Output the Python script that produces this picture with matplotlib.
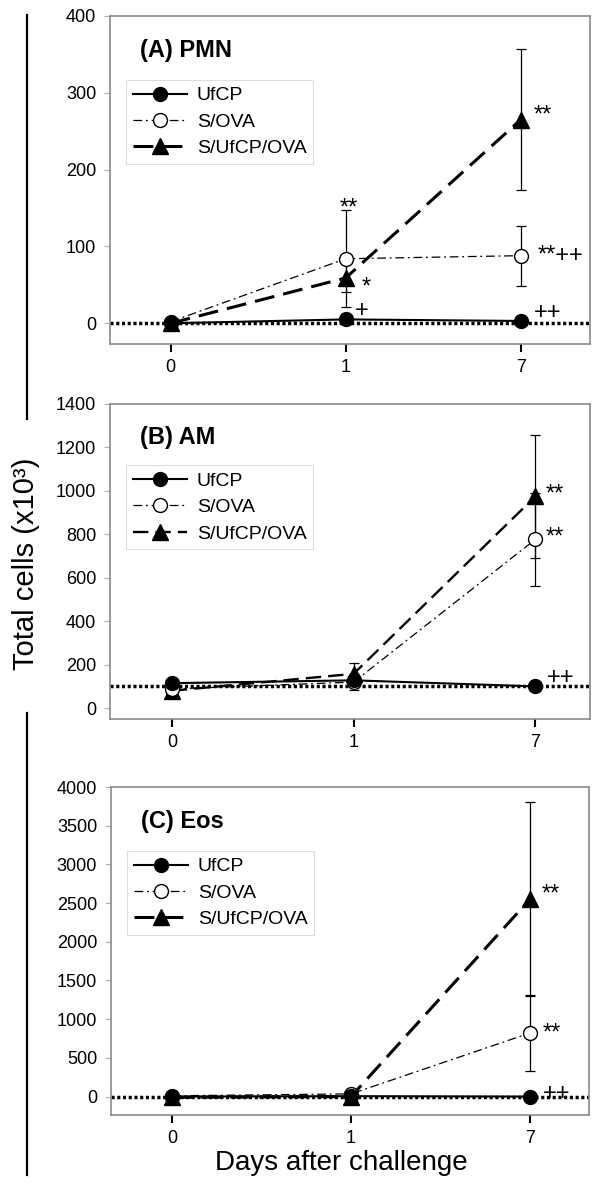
import matplotlib
matplotlib.use("Agg")
import matplotlib.pyplot as plt
from matplotlib.lines import Line2D

plt.rcParams['font.family'] = ['Liberation Sans', 'DejaVu Sans']

days = ['0', '1', '7']
xpos = [0, 1, 2]
labels = ['UfCP', 'S/OVA', 'S/UfCP/OVA']

# (A) PMN
pmn_ufcp = [0, 5, 3]
pmn_ufcp_err = [1, 3, 2]
pmn_sova = [2, 84, 88]
pmn_sova_err = [2, 63, 39]
pmn_sufcp = [0, 59, 265]
pmn_sufcp_err = [2, 18, 92]

# (B) AM
am_ufcp = [115, 128, 100]
am_ufcp_err = [10, 15, 10]
am_sova = [88, 120, 777]
am_sova_err = [10, 38, 213]
am_sufcp = [80, 158, 975]
am_sufcp_err = [10, 50, 283]

# (C) Eos
eos_ufcp = [0, 5, 0]
eos_ufcp_err = [5, 5, 5]
eos_sova = [10, 35, 821]
eos_sova_err = [10, 20, 490]
eos_sufcp = [-10, 0, 2550]
eos_sufcp_err = [10, 10, 1250]

titles = ['(A) PMN', '(B) AM', '(C) Eos']
baselines = [0, 100, 0]
yticks_list = [list(range(0, 401, 100)), list(range(0, 1401, 200)), list(range(0, 4001, 500))]
ylims = [(-27, 400), (-50, 1400), (-238, 4000)]
xlims = [(-0.347, 2.396), (-0.34, 2.30), (-0.342, 2.33)]

annots = [
    [('**', 1.017, 159), ('*', 1.116, 55), ('+', 1.091, 18.5), ('**', 2.129, 280),
     ('**++', 2.229, 93), ('++', 2.152, 15.6)],
    [('**', 2.104, 1017), ('**', 2.104, 818), ('++', 2.139, 148)],
    [('**', 2.116, 2703), ('**', 2.121, 903), ('++', 2.151, 65)],
]

data = [
    (pmn_ufcp, pmn_ufcp_err, pmn_sova, pmn_sova_err, pmn_sufcp, pmn_sufcp_err),
    (am_ufcp, am_ufcp_err, am_sova, am_sova_err, am_sufcp, am_sufcp_err),
    (eos_ufcp, eos_ufcp_err, eos_sova, eos_sova_err, eos_sufcp, eos_sufcp_err),
]

W, H = 600, 1189
fig = plt.figure(figsize=(W / 100, H / 100), dpi=100)

boxes = [(110, 16, 590, 344), (110, 404, 590, 719), (111, 787, 589, 1115)]
dash_lw = [2.2, 1.7, 2.2]

for i, (l, t, r, b) in enumerate(boxes):
    ax = fig.add_axes([l / W, 1 - b / H, (r - l) / W, (b - t) / H])
    u, ue, s, se, tr, te = data[i]
    ax.axhline(baselines[i], color='black', lw=2.5, dashes=(0.9, 0.75), zorder=1.5)
    ek = dict(fmt='none', ecolor='black', elinewidth=0.9, capsize=3.6, capthick=0.9)
    ax.errorbar(xpos, tr, yerr=te, zorder=2.5, **ek)
    ax.errorbar(xpos, s, yerr=se, zorder=2.5, **ek)
    ax.errorbar(xpos, u, yerr=ue, zorder=2.5, **ek)
    h3, = ax.plot(xpos, tr, color='black', lw=dash_lw[i], dashes=(6.5, 3),
                  marker='^', ms=11.5, mfc='black', mec='black', zorder=3)
    h2, = ax.plot(xpos, s, color='black', lw=0.9, dashes=(7, 3, 1.5, 3),
                  marker='o', ms=10, mfc='white', mec='black', mew=1.0, zorder=4)
    h1, = ax.plot(xpos, u, color='black', lw=1.5, ls='-',
                  marker='o', ms=10, mfc='black', mec='black', zorder=5)
    ax.set_xlim(*xlims[i])
    ax.set_ylim(*ylims[i])
    ax.set_xticks(xpos)
    ax.set_xticklabels(days)
    ax.set_yticks(yticks_list[i])
    for sp in ax.spines.values():
        sp.set_color('#8a8a8a')
        sp.set_linewidth(1.2)
    ax.tick_params(axis='y', direction='out', length=4, width=0.8, color='#b0b0b0',
                   labelsize=13, pad=6)
    ax.tick_params(axis='x', direction='out', length=6, width=1.5, color='black',
                   labelsize=13, pad=5)
    ax.text(0.063, 0.895, titles[i], transform=ax.transAxes, fontsize=17,
            fontweight='bold', ha='left', va='center')
    leg = ax.legend([h1, h2, h3], labels, loc='upper left',
                    bbox_to_anchor=(0.033, 0.805), borderaxespad=0, fontsize=14,
                    frameon=True, fancybox=False, edgecolor='#dddddd', framealpha=1,
                    handlelength=2.8, handletextpad=0.5, labelspacing=0.45,
                    borderpad=0.35)
    leg.get_frame().set_linewidth(0.8)
    for txt, xx, yy in annots[i]:
        fs = 17
        off = -0.55 * fs if '*' in txt and '+' not in txt else (-0.34 * fs if '*' not in txt else -0.45 * fs)
        ax.annotate(txt, (xx, yy), xytext=(0, off), textcoords='offset points',
                    ha='center', va='baseline', fontsize=fs, zorder=6)

fig.text(26 / W, 1 - 564 / H, 'Total cells (x10³)', rotation=90, fontsize=21,
         ha='center', va='center')
fig.text(341 / W, 1 - 1163 / H, 'Days after challenge', fontsize=20, ha='center', va='center')

fig.add_artist(Line2D([27 / W, 27 / W], [1 - 15 / H, 1 - 419 / H], color='black', lw=1.6))
fig.add_artist(Line2D([27 / W, 27 / W], [1 - 713 / H, 1 - 1175 / H], color='black', lw=1.6))

fig.savefig('out.png', dpi=100)
